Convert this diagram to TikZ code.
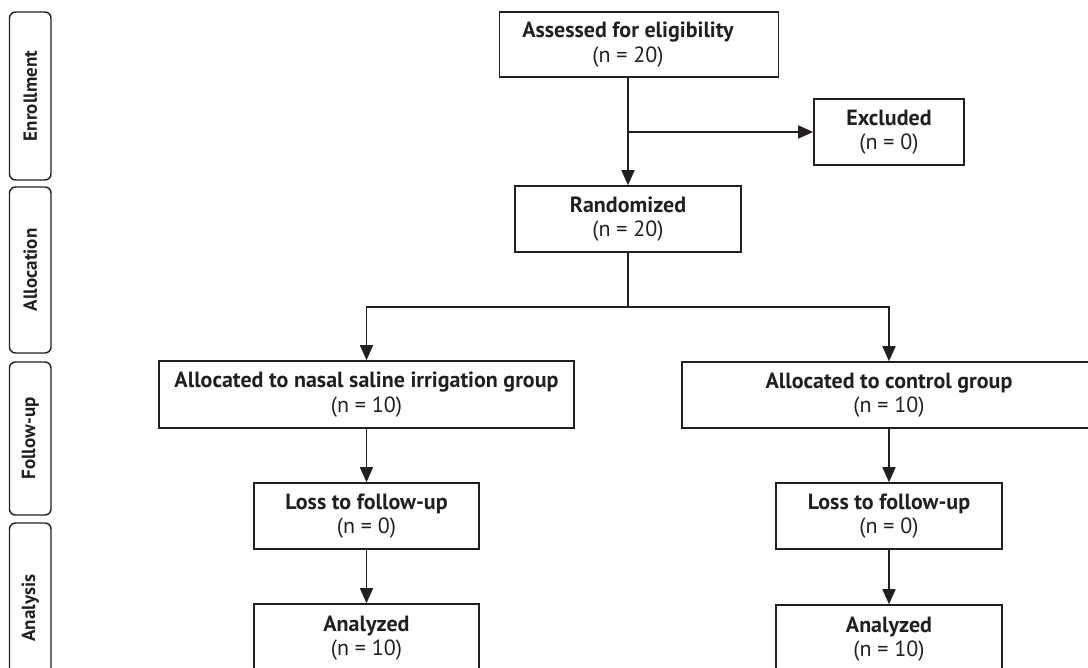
\documentclass[tikz,border=0pt]{standalone}
\usepackage{fontspec}
\setmainfont{PT Sans}
\usetikzlibrary{arrows.meta}
\definecolor{ink}{HTML}{231F20}
\begin{document}
\begin{tikzpicture}[x=1pt,y=-1pt,
  box/.style={draw=ink, line width=1.6pt, align=center, inner sep=0pt, text=ink,
    font=\fontsize{22}{24.5}\selectfont},
  side/.style={draw=ink, line width=1.4pt, rounded corners=6pt, minimum height=41.5pt,
    inner sep=0pt, rotate=90, text=ink, font=\fontsize{19}{21}\selectfont\bfseries},
  conn/.style={draw=ink, line width=1.6pt},
  arr/.style={conn, -{Triangle[length=15pt,width=13pt]}}]
\useasboundingbox (0,0) rectangle (1088,668);
\clip (0,0) rectangle (1088,668);
% side labels
\node[side, minimum width=168pt] (enr) at (30.25,96) {Enrollment};
\node[side, minimum width=166pt] (all) at (30.25,270) {Allocation};
\node[side, minimum width=153pt] (fol) at (30.25,438.5) {Follow-up};
\node[side, minimum width=170pt] (ana) at (30.25,608) {Analysis};
% boxes
\node[box, minimum width=279pt, minimum height=65pt] (assess) at (639,44.5) {\textbf{Assessed for eligibility}\hspace*{22pt}\\(n = 20)\hspace*{22pt}};
\node[box, minimum width=150pt, minimum height=66pt] (excl) at (889,132) {\textbf{Excluded}\\(n = 0)};
\node[box, minimum width=226pt, minimum height=66pt] (rand) at (628,219) {\textbf{Randomized}\\(n = 20)};
\node[box, minimum width=415pt, minimum height=67pt] (allocL) at (366.5,394.5) {\textbf{Allocated to nasal saline irrigation group}\\(n = 10)};
\node[box, minimum width=414pt, minimum height=66pt] (allocR) at (889,395) {\textbf{Allocated to control group}\\(n = 10)};
\node[box, minimum width=225pt, minimum height=66pt] (lossL) at (366.5,516) {\textbf{Loss to follow-up}\\(n = 0)};
\node[box, minimum width=226pt, minimum height=66pt] (lossR) at (889,516) {\textbf{Loss to follow-up}\\(n = 0)};
\node[box, minimum width=225pt, minimum height=68pt] (anaL) at (366.5,638) {\textbf{Analyzed}\\(n = 10)};
\node[box, minimum width=226pt, minimum height=68pt] (anaR) at (889,639) {\textbf{Analyzed}\\(n = 10)};
% connectors
\coordinate (top) at (rand.north |- assess.south);
\coordinate (br) at (rand.north |- excl.west);
\coordinate (split) at (628,307);
\draw[arr] (top) -- (rand.north);
\draw[arr] (br) -- (excl.west);
\draw[conn] (rand.south) -- (split);
\draw[arr] (split) -| (allocL.north);
\draw[arr] (split) -| (allocR.north);
\draw[arr] (allocL.south) -- (lossL.north);
\draw[arr] (allocR.south) -- (lossR.north);
\draw[arr] (lossL.south) -- (anaL.north);
\draw[arr] (lossR.south) -- (anaR.north);
\end{tikzpicture}
\end{document}
